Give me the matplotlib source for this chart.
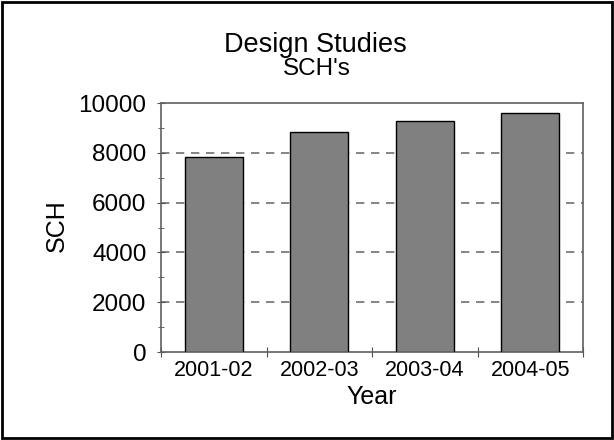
import matplotlib
matplotlib.use("Agg")
import matplotlib.pyplot as plt
from matplotlib.ticker import MultipleLocator
from matplotlib.patches import Rectangle

categories = ["2001-02", "2002-03", "2003-04", "2004-05"]
values = [7830, 8830, 9280, 9600]

plt.rcParams['font.family'] = ['Liberation Sans', 'DejaVu Sans']

W, H = 614, 440
fig = plt.figure(figsize=(W / 100, H / 100), dpi=100)
ax = fig.add_axes([161 / W, 1 - 352 / H, (583 - 161) / W, (352 - 103) / H])

x = list(range(len(categories)))
ax.bar(x, values, width=0.55, color="#808080", edgecolor="black", linewidth=1, zorder=3)
ax.set_xlim(-0.5, len(categories) - 0.5)
ax.set_ylim(0, 10000)

for y in [2000, 4000, 6000, 8000]:
    ax.axhline(y, color="#707070", linestyle=(0, (5, 4)), linewidth=1.2, zorder=1)

ax.set_xticks([i + 0.5 for i in range(len(categories) - 1)] + [-0.5, len(categories) - 0.5])
ax.set_xticklabels([])
ax.set_xticks(x, minor=True)
ax.set_xticklabels(categories, minor=True, fontsize=15.5)
ax.tick_params(axis='x', which='minor', length=0, pad=6)
ax.tick_params(axis='x', which='major', direction='inout', length=6.5, color="#505050")

ax.yaxis.set_major_locator(MultipleLocator(2000))
ax.yaxis.set_minor_locator(MultipleLocator(1000))
ax.tick_params(axis='y', which='major', direction='inout', length=6, labelsize=17.5, color="#505050", pad=7.5)
ax.tick_params(axis='y', which='minor', direction='inout', length=4.5, color="#505050")

for s in ax.spines.values():
    s.set_color("#606060")
    s.set_linewidth(1.2)

fig.text(69 / W, 1 - 226 / H, "SCH", rotation=90, ha="right", va="center", fontsize=18)
fig.text(372 / W, 1 - 404 / H, "Year", ha="center", va="baseline", fontsize=18)

fig.text(315 / W, 1 - 52 / H, "Design Studies", ha="center", va="baseline", fontsize=19.5)
fig.text(317 / W, 1 - 75 / H, "SCH's", ha="center", va="baseline", fontsize=17.5)

fig.patches.append(Rectangle((2 / W, 2 / H), (W - 4) / W, (H - 4) / H, transform=fig.transFigure,
                             fill=False, edgecolor="black", linewidth=2))

fig.savefig("out.png", dpi=100)
